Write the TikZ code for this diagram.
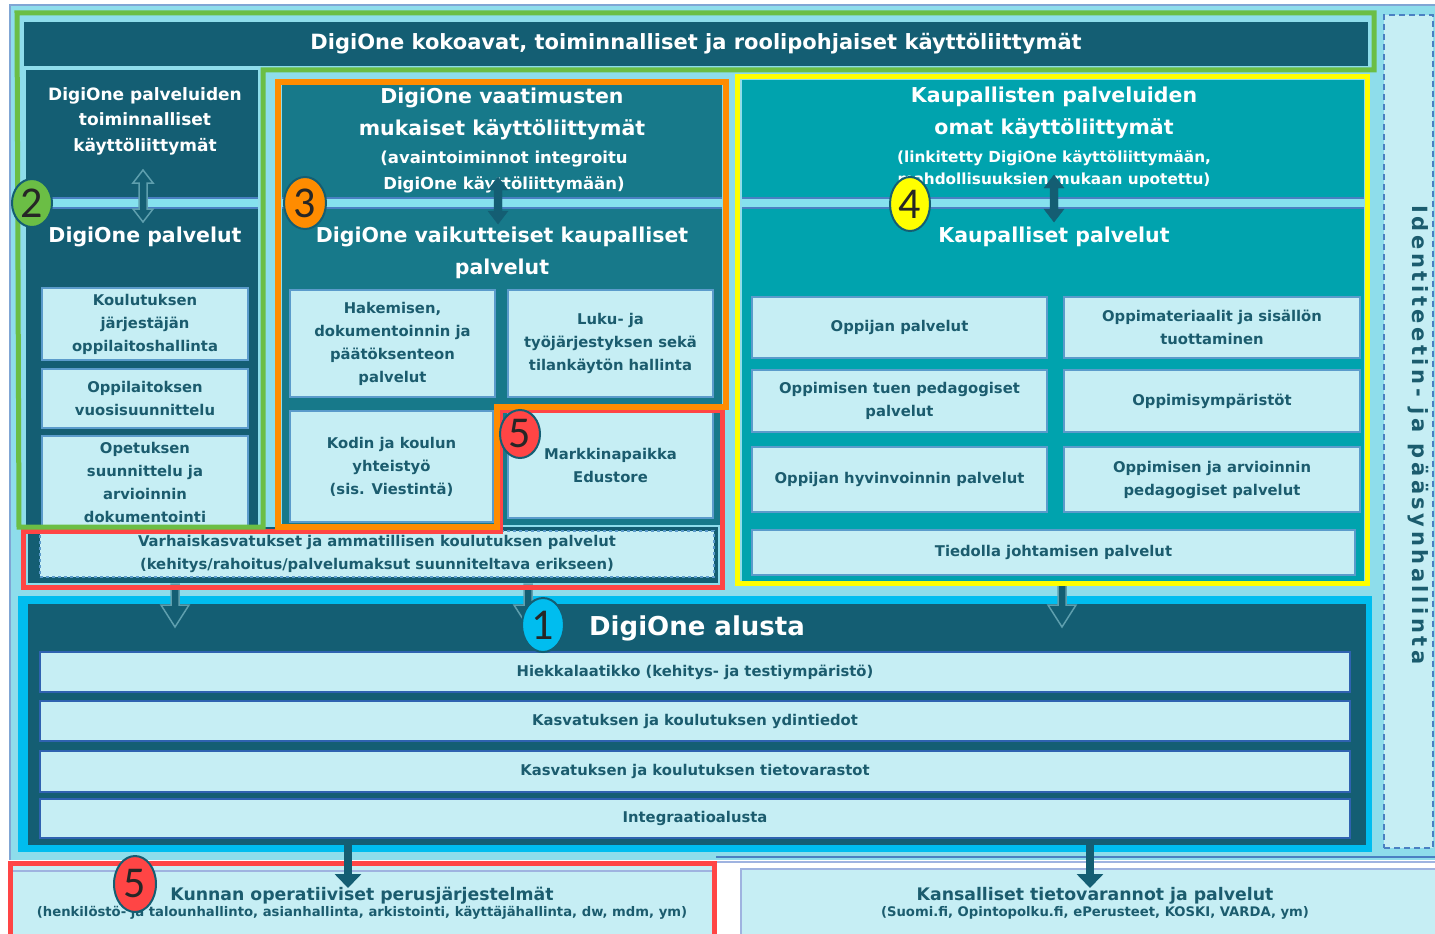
\documentclass[tikz,border=0pt]{standalone}
\usepackage{fontspec}
\setmainfont{DejaVu Sans}
\newfontfamily\numfont{Carlito}
\newfontfamily\spacedfont[LetterSpace=17]{DejaVu Sans}
\usetikzlibrary{shapes.geometric,arrows.meta}
\definecolor{bgc}{HTML}{8EDDEB}
\definecolor{navy}{HTML}{145E73}
\definecolor{teal3}{HTML}{17798A}
\definecolor{teal4}{HTML}{00A3AE}
\definecolor{lightc}{HTML}{C6EEF4}
\definecolor{boxb}{HTML}{5B9BCB}
\definecolor{txt}{HTML}{1B5C6E}
\definecolor{grn}{HTML}{6BBE45}
\definecolor{org}{HTML}{FF8C00}
\definecolor{rd}{HTML}{FF4545}
\definecolor{yl}{HTML}{FFFF00}
\definecolor{cy}{HTML}{00BDEF}
\definecolor{band}{HTML}{86E1EE}
\definecolor{bandb}{HTML}{4A80C2}
\definecolor{hollow}{HTML}{5E9FAE}
\definecolor{barb}{HTML}{2F62B0}
\definecolor{lav}{HTML}{9FB3E0}
\newcommand\udarr[4]{\draw[#4] (#1,#2) -- (#1+10,#2+13) -- (#1+4,#2+13) -- (#1+4,#3-13) -- (#1+10,#3-13) -- (#1,#3) -- (#1-10,#3-13) -- (#1-4,#3-13) -- (#1-4,#2+13) -- (#1-10,#2+13) -- cycle;}
\newcommand\dnarr[3]{\draw[fill=navy, draw=hollow, line width=1.5] (#1-4,#2) -- (#1+4,#2) -- (#1+4,#3-22) -- (#1+14,#3-22) -- (#1,#3) -- (#1-14,#3-22) -- (#1-4,#3-22) -- cycle;}
\newcommand\sepband[2]{\fill[band] (#1,198) rectangle (#2,208); \draw[bandb, line width=1.5] (#1,198) -- (#2,198) (#1,208) -- (#2,208);}
\tikzset{
  wt/.style={text=white, align=center, inner sep=0},
  h22/.style={font=\bfseries\fontsize{20.5}{32}\selectfont},
  lbox/.style={draw=boxb, line width=1.5, fill=lightc, text=txt, align=center, inner sep=2,
     font=\bfseries\fontsize{14.8}{23}\selectfont},
  bar/.style={lbox, draw=barb, line width=2.5, minimum width=1310},
  badge/.style={ellipse, draw=navy, line width=2, minimum width=42, minimum height=54, inner sep=0,
     font=\numfont\fontsize{44}{44}\selectfont, text=black!85},
}
\begin{document}
\begin{tikzpicture}[x=1pt, y=-1pt]
\useasboundingbox (0,0) rectangle (1435,934);
\fill[white] (0,0) rectangle (1435,934);
% background
\fill[bgc] (10,5) rectangle (1435,860);
\draw[bandb!70, line width=2] (10,860) -- (10,5) -- (1435,5);

% identity column
\node[draw=bandb, dashed, dash pattern=on 6pt off 4pt, line width=2, fill=lightc,
  minimum width=49, minimum height=833, inner sep=0] (idb) at (1408.5,431.5) {};
\node[rotate=-90, text=txt, font=\spacedfont\bfseries\fontsize{21}{24}\selectfont] (idt) at (1418,435) {Identiteetin- ja pääsynhallinta};

% top bar
\node[fill=navy, minimum width=1344, minimum height=44, text=white, inner sep=0,
  font=\bfseries\fontsize{21}{24}\selectfont] (top) at (696,44) {DigiOne kokoavat, toiminnalliset ja roolipohjaiset käyttöliittymät};

% ---------- column 2
\fill[navy] (26,70) rectangle (258,525);
\sepband{26}{258}
\node[wt, font=\bfseries\fontsize{17}{25.5}\selectfont] (t2a) at (145,121) {DigiOne palveluiden\\toiminnalliset\\käyttöliittymät};
\node[wt, h22] (t2b) at (145,237) {DigiOne palvelut};
\udarr{143}{170}{222}{draw=hollow, line width=1.5, fill=navy}
\node[lbox, minimum width=206, minimum height=72] (k1) at (145,324) {Koulutuksen\\järjestäjän\\oppilaitoshallinta};
\node[lbox, minimum width=206, minimum height=59] (k2) at (145,398.5) {Oppilaitoksen\\vuosisuunnittelu};
\node[lbox, minimum width=206, minimum height=92] (k3) at (145,482) {Opetuksen\\suunnittelu ja\\arvioinnin\\dokumentointi};

% ---------- column 3
\fill[teal3] (282,84) rectangle (722,525);
\sepband{282}{722}
\node[wt, h22] (t3a) at (502,114) {DigiOne vaatimusten\\mukaiset käyttöliittymät};
\node[wt, font=\bfseries\fontsize{16.5}{26}\selectfont] (t3b) at (504,172) {(avaintoiminnot integroitu\\DigiOne käyttöliittymään)};
\node[wt, h22] (t3c) at (502,253) {DigiOne vaikutteiset kaupalliset\\palvelut};
\udarr{498}{177}{224}{fill=navy, draw=navy}
\node[lbox, minimum width=205, minimum height=107] (h1) at (392.5,343.5) {Hakemisen,\\dokumentoinnin ja\\päätöksenteon\\palvelut};
\node[lbox, minimum width=205, minimum height=107] (h2) at (610.5,343.5) {Luku- ja\\työjärjestyksen sekä\\tilankäytön hallinta};
\node[lbox, minimum width=203, minimum height=111] (h3) at (391.5,466.5) {Kodin ja koulun\\yhteistyö\\(sis. Viestintä)};
\node[lbox, minimum width=205, minimum height=106] (h4) at (610.5,465) {Markkinapaikka\\Edustore};

% varhaiskasvatus bar
\fill[navy] (28,527) rectangle (718,583);
\node[lbox, dashed, minimum width=674, minimum height=46] (varh) at (377,554) {Varhaiskasvatukset ja ammatillisen koulutuksen palvelut\\(kehitys/rahoitus/palvelumaksut suunniteltava erikseen)};

% ---------- column 4
\fill[teal4] (742,80) rectangle (1364,581);
\sepband{742}{1364}
\node[wt, h22] (t4a) at (1054,113) {Kaupallisten palveluiden\\omat käyttöliittymät};
\node[wt, font=\bfseries\fontsize{15.3}{22}\selectfont] (t4b) at (1054,169) {(linkitetty DigiOne käyttöliittymään,\\mahdollisuuksien mukaan upotettu)};
\node[wt, h22] (t4c) at (1054,237) {Kaupalliset palvelut};
\udarr{1054}{175}{222}{fill=navy, draw=navy}
\node[lbox, minimum width=295, minimum height=61] (c11) at (899.5,327.5) {Oppijan palvelut};
\node[lbox, minimum width=296, minimum height=61] (c12) at (1212,327.5) {Oppimateriaalit ja sisällön\\tuottaminen};
\node[lbox, minimum width=295, minimum height=62] (c21) at (899.5,401) {Oppimisen tuen pedagogiset\\palvelut};
\node[lbox, minimum width=296, minimum height=62] (c22) at (1212,401) {Oppimisympäristöt};
\node[lbox, minimum width=295, minimum height=65] (c31) at (899.5,479.5) {Oppijan hyvinvoinnin palvelut};
\node[lbox, minimum width=296, minimum height=65] (c32) at (1212,479.5) {Oppimisen ja arvioinnin\\pedagogiset palvelut};
\node[lbox, minimum width=603, minimum height=45] (c4) at (1053.5,552.5) {Tiedolla johtamisen palvelut};

% ---------- platform
\fill[cy] (18,596) rectangle (1372,852);
\fill[navy] (28,604) rectangle (1366,845);
\node[wt, font=\bfseries\fontsize{26}{30}\selectfont] (alusta) at (697,628) {DigiOne alusta};
\node[bar, minimum height=40] (b1) at (695,672) {Hiekkalaatikko (kehitys- ja testiympäristö)};
\node[bar, minimum height=40] (b2) at (695,721) {Kasvatuksen ja koulutuksen ydintiedot};
\node[bar, minimum height=41] (b3) at (695,771.5) {Kasvatuksen ja koulutuksen tietovarastot};
\node[bar, minimum height=39] (b4) at (695,818.5) {Integraatioalusta};

% hollow arrows into platform
\dnarr{175}{584}{627}
\dnarr{528}{584}{627}
\dnarr{1062}{584}{627}

% ---------- frames
\draw[rd, line width=5] (23,531) -- (500,531) -- (500,410) -- (722,410) -- (722,587) -- (23,587) -- cycle;
\draw[grn, line width=5] (17,13) -- (1374,13) -- (1374,70) -- (263,70) -- (263,527) -- (19,527) -- cycle;
\draw[org, line width=6] (278,82) -- (726,82) -- (726,407) -- (497,407) -- (497,527) -- (278,527) -- cycle;
\draw[yl, line width=5] (737,77) rectangle (1367,583);

% ---------- bottom systems
\draw[bandb, line width=2] (716,857) -- (1435,857);
\draw[lav, line width=2] (716,862) -- (1435,862);
\fill[lightc] (10,866) rectangle (714,934);
\draw[lav, line width=2] (10,871) -- (714,871);
\node[text=txt, align=center, inner sep=0] (kunta) at (362,903)
  {{\bfseries\fontsize{17.3}{22}\selectfont Kunnan operatiiviset perusjärjestelmät}\\[1pt]
   {\bfseries\fontsize{13.2}{16}\selectfont (henkilöstö- ja talounhallinto, asianhallinta, arkistointi, käyttäjähallinta, dw, mdm, ym)}};
\draw[rd, line width=5] (10,936) -- (10,863) -- (714,863) -- (714,936);
\node[draw=lav, line width=2, fill=lightc, minimum width=697, minimum height=68, inner sep=0] (kans) at (1089.5,903) {};
\node[text=txt, align=center, inner sep=0] (kanst) at (1095,903)
  {{\bfseries\fontsize{17.3}{22}\selectfont Kansalliset tietovarannot ja palvelut}\\[1pt]
   {\bfseries\fontsize{13.2}{16}\selectfont (Suomi.fi, Opintopolku.fi, ePerusteet, KOSKI, VARDA, ym)}};

% arrows from platform down
\coordinate (pa) at (348,845);
\coordinate (pb) at (1090,845);
\draw[navy, line width=8, -{Triangle[length=14pt, width=26pt]}] (pa) -- (pa |- 0,888);
\draw[navy, line width=8, -{Triangle[length=14pt, width=26pt]}] (pb) -- (pb |- 0,888);

% ---------- badges
\node[badge, fill=cy] (n1) at (543,625) {1};
\node[badge, fill=grn, minimum width=40, minimum height=48] (n2) at (32,203) {2};
\node[badge, fill=org, minimum height=52] (n3) at (305,203) {3};
\node[badge, fill=yl, minimum width=40] (n4) at (910,204) {4};
\node[badge, fill=rd, minimum width=40, minimum height=48] (n5a) at (520,434) {5};
\node[badge, fill=rd, minimum height=56] (n5b) at (135,884) {5};
\end{tikzpicture}
\end{document}
